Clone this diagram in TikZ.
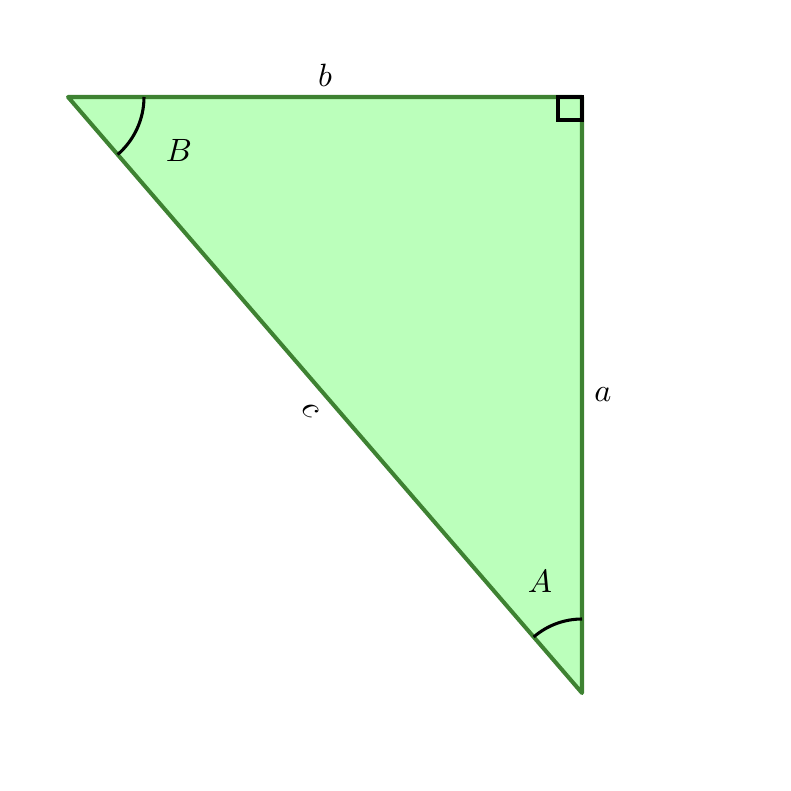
\documentclass[tikz,border=0pt]{standalone}
\usepackage{amsmath}
\usepackage{xcolor}
\usetikzlibrary{calc}
\definecolor{trifill}{RGB}{187,255,187}
\definecolor{triline}{RGB}{62,130,50}

\begin{document}
\begin{tikzpicture}[x=0.31pt, y=-0.31pt, line width=1.25pt]
			
			\useasboundingbox (0,0) rectangle (791,791);
			
			\coordinate (B) at (68,97);
			\coordinate (C) at (582,97);
			\coordinate (A) at (582,693);
			
			\draw[triline, fill=trifill, line join=round] (B) -- (C) -- (A) -- cycle;
			
			% right angle mark
			\draw[black, line width=0.95pt] (558,97) -- (558,120) -- (582,120) -- (582,97) -- cycle;
			
			% angle arcs
			\draw[black, line width=0.95pt] ($(B)+(76,0)$) arc[start angle=0, end angle=49.2, radius=76];
			\draw[black, line width=0.95pt] ($(A)+(0,-74)$) arc[start angle=-90, end angle=-130.8, radius=74];
			
			\node (lb) at (325,75) {$b$};
			\node (la) at (603,395) {$a$};
			\node[rotate=-49.2] (lc) at (310,410) {$c$};
			\node (lB) at (179,150) {$B$};
			\node (lA) at (540,581) {$A$};
			
		\end{tikzpicture}
\end{document}
